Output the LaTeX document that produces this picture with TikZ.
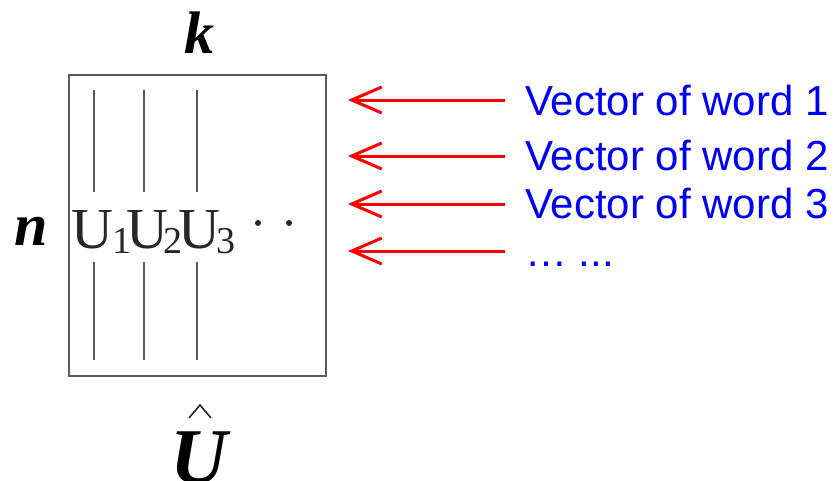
\documentclass[tikz,border=0pt]{standalone}
\usepackage{fontspec}
\setmainfont{Liberation Serif}
\newfontfamily\arial{Liberation Sans}
\usetikzlibrary{arrows.meta}
\definecolor{boxgray}{HTML}{5A5A5A}
\definecolor{txtblue}{HTML}{0000F0}
\definecolor{arrred}{HTML}{FF0000}
\newcommand{\usb}[1]{\raisebox{-5pt}{\fontsize{38}{40}\selectfont #1}}
\tikzset{
  matbox/.style={draw=boxgray, line width=2pt},
  colline/.style={draw=boxgray, line width=2pt},
  ulab/.style={anchor=base west, inner sep=0pt, font=\fontsize{58}{60}\selectfont, text=black!85},
  dimlab/.style={inner sep=0pt, font=\fontsize{60}{62}\selectfont\bfseries\itshape},
  vlab/.style={anchor=base west, inner sep=0pt, text=txtblue, font=\arial\fontsize{42}{46}\selectfont},
  redarrow/.style={draw=arrred, line width=3pt, -{Straight Barb[length=30pt, width=26pt, line width=3pt]}},
}
\begin{document}
\begin{tikzpicture}[x=1pt,y=-1pt]
\useasboundingbox (0,0) rectangle (836,480);
% matrix box
\node[matbox, minimum width=257pt, minimum height=301pt, anchor=north west, inner sep=0pt] (box) at (68,74) {};
% column lines
\foreach \xx/\nm in {94/a,144/b,197/c}{
  \coordinate (\nm t1) at (\xx,90);
  \coordinate (\nm b1) at (\xx,192);
  \coordinate (\nm t2) at (\xx,262);
  \coordinate (\nm b2) at (\xx,360);
  \draw[colline] (\nm t1) -- (\nm b1);
  \draw[colline] (\nm t2) -- (\nm b2);
}
% U labels
\node[ulab] (ulabels) at (71,248) {U\kern-1pt\usb{1}\kern-5pt U\kern-4pt\usb{2}\kern-4pt U\kern-4pt\usb{3}};
\fill[black!85] (258,223) circle (3pt) (289,223) circle (3pt);
% dimension labels
\node[dimlab, anchor=base] (k) at (199,53) {k};
\node[dimlab, anchor=base] (n) at (31,245) {n};
\node[inner sep=0pt, anchor=base, font=\fontsize{79}{80}\selectfont\bfseries\itshape] (uhat) at (199,483) {U};
\draw[line width=1.6pt, black!85] (189,418) -- (200,405) -- (211,418);
% word vector labels
\node[vlab] (t1) at (525,115) {Vector of word 1};
\node[vlab] (t2) at (525,170) {Vector of word 2};
\node[vlab] (t3) at (525,218) {Vector of word 3};
\node[vlab] (t4) at (525,266) {… ...};
% arrows
\foreach \i/\yy in {1/100,2/156,3/204,4/251}{
  \coordinate (as\i) at (505,\yy);
  \coordinate (ae\i) at (348,\yy);
  \draw[redarrow] (as\i) -- (ae\i);
}
\end{tikzpicture}
\end{document}
